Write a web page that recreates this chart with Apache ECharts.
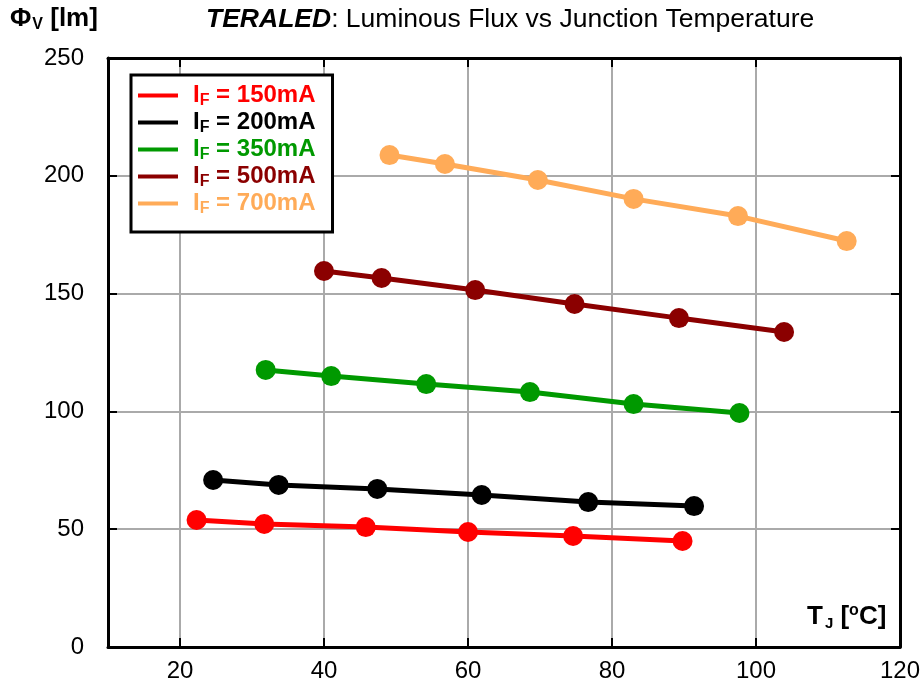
<!DOCTYPE html>
<html>
<head>
<meta charset="utf-8">
<script src="https://cdn.jsdelivr.net/npm/echarts@6/dist/echarts.min.js"></script>
<style>
  html, body { margin: 0; padding: 0; background: #fff; }
  #chart { width: 923px; height: 690px; }
</style>
</head>
<body>
<div id="chart"></div>
<script>
// currents (legend) and colours
var currents = ['150mA', '200mA', '350mA', '500mA', '700mA'];
var colors = ['#ff0000', '#000000', '#009900', '#8b0000', '#ffab58'];

// junction temperature (°C) per current
var tj150 = [22.3, 31.7, 45.8, 60.0, 74.6, 89.8];
var tj200 = [24.6, 33.7, 47.4, 61.9, 76.7, 91.4];
var tj350 = [31.9, 41.0, 54.2, 68.6, 83.0, 97.7];
var tj500 = [40.0, 48.0, 61.0, 74.8, 89.3, 103.9];
var tj700 = [49.1, 56.8, 69.7, 83.0, 97.5, 112.6];

// luminous flux (lm) per current
var flux150 = [53.9, 52.2, 50.9, 48.8, 47.1, 45.0];
var flux200 = [70.9, 68.8, 67.1, 64.5, 61.5, 59.8];
var flux350 = [117.6, 115.0, 111.6, 108.2, 103.1, 99.3];
var flux500 = [159.6, 156.6, 151.5, 145.6, 139.6, 133.7];
var flux700 = [208.8, 205.0, 198.2, 190.2, 182.9, 172.3];

var tjAll = [tj150, tj200, tj350, tj500, tj700];
var fluxAll = [flux150, flux200, flux350, flux500, flux700];

var myChart = echarts.init(document.getElementById('chart'));

var font = 'Liberation Sans, Arial, sans-serif';

var series = currents.map(function (c, i) {
    var pts = tjAll[i].map(function (t, k) { return [t, fluxAll[i][k]]; });
    return {
        name: c,
        type: 'line',
        data: pts,
        symbol: 'circle',
        symbolSize: 20,
        lineStyle: { color: colors[i], width: 5 },
        itemStyle: { color: colors[i] },
        emphasis: { disabled: true },
        z: 5
    };
});

var legendData = currents.map(function (c, i) {
    return {
        name: c,
        icon: 'rect',
        itemStyle: { color: colors[i] },
        textStyle: { color: colors[i] }
    };
});

var frameLine = { show: true, onZero: false, lineStyle: { color: '#000', width: 3 } };
var tickIn = { show: true, inside: true, length: 9, lineStyle: { color: '#000', width: 2 } };
var gridLine = { show: true, lineStyle: { color: '#aaaaaa', width: 2 } };

myChart.setOption({
    animation: false,
    grid: { left: 108, right: 18, top: 58, bottom: 43 },
    title: {
        text: '{b|TERALED}{n|: Luminous Flux vs Junction Temperature}',
        left: 201, top: 1,
        textStyle: {
            rich: {
                b: { fontFamily: font, fontSize: 26.5, fontWeight: 'bold', fontStyle: 'italic', color: '#000' },
                n: { fontFamily: font, fontSize: 26.5, fontWeight: 'normal', color: '#000' }
            }
        }
    },
    legend: {
        orient: 'vertical',
        left: 131, top: 75,
        padding: [7, 17, 15, 7],
        itemGap: 0,
        itemWidth: 40, itemHeight: 4,
        backgroundColor: '#fff',
        borderColor: '#000', borderWidth: 3,
        data: legendData,
        formatter: function (name) {
            return '{i|I}{s|F}{a| = ' + name + '}';
        },
        textStyle: {
            fontFamily: font, fontWeight: 'bold', fontSize: 24,
            rich: {
                i: { fontFamily: font, fontWeight: 'bold', fontSize: 24, lineHeight: 27, verticalAlign: 'middle', padding: [0, 0, 0, 10] },
                a: { fontFamily: font, fontWeight: 'bold', fontSize: 24, lineHeight: 27, verticalAlign: 'middle' },
                s: { fontFamily: font, fontWeight: 'bold', fontSize: 16, lineHeight: 16, verticalAlign: 'bottom', padding: [11, 0, 0, 0] }
            }
        },
        selectedMode: false
    },
    xAxis: [{
        type: 'value', min: 10, max: 120, splitNumber: 5,
        axisLine: frameLine, axisTick: tickIn, splitLine: gridLine,
        axisLabel: { showMinLabel: false, fontFamily: font, fontSize: 24, color: '#000', margin: 12 }
    }, {
        type: 'value', min: 10, max: 120, splitNumber: 5, position: 'top',
        axisLine: frameLine, axisTick: tickIn, axisLabel: { show: false }, splitLine: { show: false }
    }],
    yAxis: [{
        type: 'value', min: 0, max: 250, interval: 50,
        axisLine: frameLine, axisTick: tickIn, splitLine: gridLine,
        axisLabel: { fontFamily: font, fontSize: 24, color: '#000', margin: 24 }
    }, {
        type: 'value', min: 0, max: 250, interval: 50, position: 'right',
        axisLine: frameLine, axisTick: tickIn, axisLabel: { show: false }, splitLine: { show: false }
    }],
    graphic: [{
        type: 'text', left: 10, top: 4,
        style: {
            text: '{a|Φ}{s|V}{a| [lm]}',
            rich: {
                a: { fontFamily: font, fontWeight: 'bold', fontSize: 26, lineHeight: 28, verticalAlign: 'middle', fill: '#000' },
                s: { fontFamily: font, fontWeight: 'bold', fontSize: 16, lineHeight: 16, verticalAlign: 'bottom', padding: [13, 0, 0, 1], fill: '#000' }
            }
        }
    }, {
        type: 'text', left: 807, top: 602,
        style: {
            text: '{a|T}{s|J}{a| [}{p|o}{a|C]}',
            rich: {
                a: { fontFamily: font, fontWeight: 'bold', fontSize: 26, lineHeight: 28, verticalAlign: 'middle', fill: '#000' },
                s: { fontFamily: font, fontWeight: 'bold', fontSize: 15, lineHeight: 15, verticalAlign: 'bottom', padding: [14, 0, 0, 2], fill: '#000' },
                p: { fontFamily: font, fontWeight: 'bold', fontSize: 16, lineHeight: 16, verticalAlign: 'top', padding: [0, 0, 11, 0], fill: '#000' }
            }
        }
    }],
    series: series
});
</script>
</body>
</html>
